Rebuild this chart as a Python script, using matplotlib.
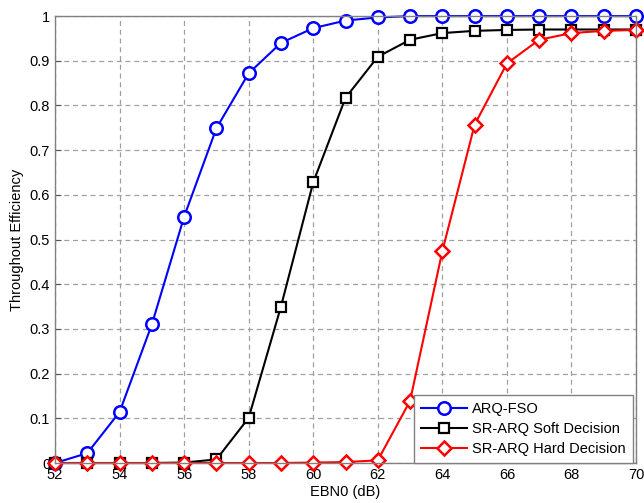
import matplotlib
matplotlib.use("Agg")
import matplotlib.pyplot as plt
import numpy as np

plt.rcParams['font.family'] = ['Liberation Sans', 'DejaVu Sans']

# data
ebn0 = np.arange(52, 71)
arq_fso = [0.0, 0.022, 0.114, 0.31, 0.551, 0.749, 0.872, 0.94, 0.973, 0.99, 0.997,
           1.0, 1.0, 1.0, 1.0, 1.0, 1.0, 1.0, 1.0]
soft = [0.0, 0.0, 0.0, 0.0, 0.001, 0.008, 0.101, 0.35, 0.628, 0.817, 0.909,
        0.947, 0.962, 0.967, 0.969, 0.97, 0.97, 0.97, 0.97]
hard = [0.0, 0.0, 0.0, 0.0, 0.0, 0.0, 0.0, 0.0, 0.001, 0.002, 0.006,
        0.139, 0.474, 0.757, 0.894, 0.947, 0.962, 0.967, 0.969]

fig = plt.figure(figsize=(6.44, 5.03), dpi=100)
ax = fig.add_axes([0.0854, 0.0795, 0.9022, 0.8885])

ax.plot(ebn0, arq_fso, "-o", color="blue", lw=1.5, markersize=9, clip_on=False,
        markerfacecolor="white", markeredgewidth=1.8, label="ARQ-FSO")
ax.plot(ebn0, soft, "-s", color="black", lw=1.5, markersize=7, clip_on=False,
        markerfacecolor="white", markeredgewidth=1.6, label="SR-ARQ Soft Decision")
ax.plot(ebn0, hard, "-D", color="red", lw=1.5, markersize=7, clip_on=False,
        markerfacecolor="white", markeredgewidth=1.8, label="SR-ARQ Hard Decision")

ax.set_xlim(52, 70)
ax.set_ylim(0, 1)
ax.set_xticks(range(52, 71, 2))
ax.set_yticks(np.arange(0, 1.01, 0.1))
ax.set_yticklabels(["0"] + ["%.1f" % v for v in np.arange(0.1, 0.95, 0.1)] + ["1"])
ax.tick_params(direction="in", labelsize=10.5, length=4, color="#555555")
ax.grid(True, linestyle=(0, (4, 3)), color="#a0a0a0", linewidth=0.9)
for s in ax.spines.values():
    s.set_color("#808080")
    s.set_linewidth(1.0)

ax.set_xlabel("EBN0 (dB)", fontsize=10.5, labelpad=2)
ax.set_ylabel("Throughout Efficiency", fontsize=10.5, labelpad=4)

leg = ax.legend(loc="lower right", fontsize=10.5, fancybox=False, framealpha=1,
                edgecolor="#808080", borderpad=0.5, handlelength=3.1,
                handletextpad=0.35, labelspacing=0.4,
                bbox_to_anchor=(0.994, 0.0), borderaxespad=0.0)
leg.get_frame().set_linewidth(1.0)

fig.savefig("out.png", dpi=100)
